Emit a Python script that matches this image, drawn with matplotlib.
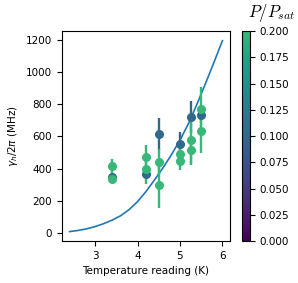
import numpy as np
import matplotlib
matplotlib.use('Agg')
import matplotlib.pyplot as plt
from matplotlib.colors import ListedColormap, Normalize

# Measured points: temperature, linewidth, error, saturation parameter
temps = [3.4, 3.4, 3.4, 4.2, 4.2, 4.2, 4.5, 4.5, 4.5, 5.0, 5.0, 5.0, 5.25, 5.25, 5.25, 5.5, 5.5, 5.5]
gamma = [417, 348, 335, 475, 397, 366, 613, 442, 298, 552, 490, 448, 722, 576, 515, 768, 731, 634]
gamma_err = [45, 30, 25, 70, 90, 25, 100, 80, 140, 78, 40, 57, 98, 150, 90, 140, 30, 135]
power = [0.2, 0.1, 0.2, 0.2, 0.2, 0.1, 0.1, 0.2, 0.2, 0.1, 0.2, 0.2, 0.1, 0.2, 0.2, 0.2, 0.1, 0.2]

# Model curve
fit_T = [2.4, 2.6, 2.8, 3.0, 3.2, 3.4, 3.6, 3.8, 4.0, 4.2, 4.4, 4.6, 4.8, 5.0, 5.2, 5.4, 5.6, 5.8, 6.0]
fit_gamma = [9, 16, 26, 40, 58, 80, 107, 145, 195, 258, 330, 405, 487, 577, 680, 800, 928, 1060, 1195]

cmap = ListedColormap(plt.cm.viridis(np.linspace(0, 0.67, 256)))
norm = Normalize(vmin=0, vmax=0.2)

plt.rcParams['font.size'] = 7.5

fig = plt.figure(figsize=(2.98, 2.83), dpi=100)
ax = fig.add_axes([0.208, 0.148, 0.564, 0.742])
cax = fig.add_axes([0.812, 0.148, 0.027, 0.742])

ax.plot(fit_T, fit_gamma, color='#1f77b4', lw=1.2)

# darker (low power) points first, green on top
order = sorted(range(len(temps)), key=lambda i: power[i])
for i in order:
    c = cmap(norm(power[i]))
    ax.errorbar(temps[i], gamma[i], yerr=gamma_err[i], fmt='o', color=c,
                ms=5.5, elinewidth=1.7, capsize=0)

ax.set_xlabel('Temperature reading (K)')
ax.set_ylabel(r'$\gamma_h/2\pi$ (MHz)')
ax.set_xticks([3, 4, 5, 6])
ax.set_yticks([0, 200, 400, 600, 800, 1000, 1200])

sm = plt.cm.ScalarMappable(cmap=cmap, norm=norm)
cb = fig.colorbar(sm, cax=cax)
cb.set_ticks([0, 0.025, 0.05, 0.075, 0.1, 0.125, 0.15, 0.175, 0.2])
cb.outline.set_linewidth(0.8)
fig.text(0.99, 0.955, r'$P/P_{sat}$', ha='right', va='center', fontsize=12,
         math_fontfamily='cm')

fig.savefig('out.png', dpi=100)
